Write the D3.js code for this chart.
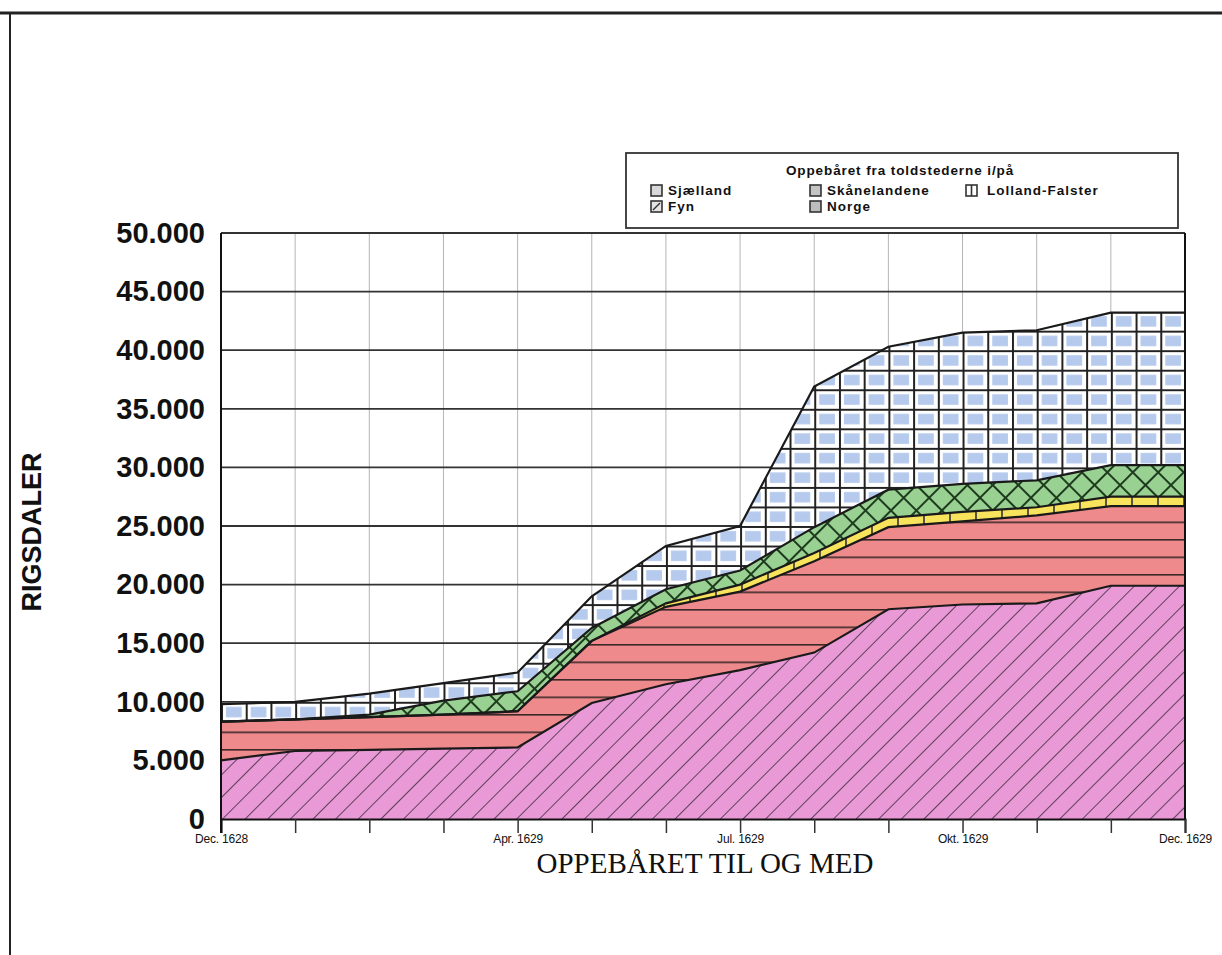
<!DOCTYPE html>
<html><head><meta charset="utf-8">
<script src="https://cdn.jsdelivr.net/npm/d3@7/dist/d3.min.js"></script>
<style>body{margin:0;background:#fff}svg{display:block}</style>
</head><body>
<svg id="chart" width="1222" height="955"></svg>
<script>
// ---- data ----
const tickLabels = ["Dec. 1628","","","","Apr. 1629","","","Jul. 1629","","","Okt. 1629","","","Dec. 1629"];
const fyn            = [5000,5800,5900,6000,6100,9900,11500,12700,14200,17900,18300,18400,19900,19900];
const skaanelandene  = [3300,2700,2800,2900,3100,5300,6600,6700,7800,7000,7100,7500,6800,6800];
const lollandFalster = [0,0,0,0,0,0,300,600,700,800,800,700,800,800];
const norge          = [0,0,200,1200,1700,1100,1200,1200,2200,2400,2400,2300,2700,2700];
const sjaelland      = [1500,1500,1800,1500,1600,2700,3700,3800,12000,12200,12900,12800,13000,13000];
const yTicks = [0,5000,10000,15000,20000,25000,30000,35000,40000,45000,50000];
const yTickLabels = ["0","5.000","10.000","15.000","20.000","25.000","30.000","35.000","40.000","45.000","50.000"];
const legendTitle = "Oppebåret fra toldstederne i/på";
const seriesNames = ["Fyn","Skånelandene","Lolland-Falster","Norge","Sjælland"];
const xTitle = "OPPEBÅRET TIL OG MED";
const yTitle = "RIGSDALER";

// ---- build table ----
const seriesArrays = [fyn, skaanelandene, lollandFalster, norge, sjaelland];
const rows = tickLabels.map((t,i)=>{
  const r = {i:i};
  seriesNames.forEach((n,k)=>{ r[n] = seriesArrays[k][i]; });
  return r;
});
const stacked = d3.stack().keys(seriesNames)(rows);

const svg = d3.select("#chart");
const L = 221, R = 1185, T = 233, B = 819;
const x = d3.scalePoint().domain(d3.range(tickLabels.length)).range([L,R]);
const y = d3.scaleLinear().domain([0,50000]).range([B,T]);

// ---- patterns ----
const defs = svg.append("defs");
const cellW = (R-L)/(tickLabels.length-1)/3, cellH = (B-T)/30;
let p = defs.append("pattern").attr("id","pFyn").attr("patternUnits","userSpaceOnUse")
  .attr("width",16).attr("height",16).attr("patternTransform","rotate(45)");
p.append("rect").attr("width",16).attr("height",16).attr("fill","#e99ad6");
p.append("line").attr("x1",0).attr("y1",0).attr("x2",0).attr("y2",16).attr("stroke","#3a2a3a").attr("stroke-width",1.6);
p = defs.append("pattern").attr("id","pSkane").attr("patternUnits","userSpaceOnUse")
  .attr("x",0).attr("y",B).attr("width",20).attr("height",17.5);
p.append("rect").attr("width",20).attr("height",17.5).attr("fill","#ee8a8c");
p.append("line").attr("x1",0).attr("y1",0.8).attr("x2",20).attr("y2",0.8).attr("stroke","#3a2828").attr("stroke-width",1.6);
p = defs.append("pattern").attr("id","pLF").attr("patternUnits","userSpaceOnUse")
  .attr("x",L).attr("y",0).attr("width",26).attr("height",40);
p.append("rect").attr("width",26).attr("height",40).attr("fill","#f7e35c");
p.append("line").attr("x1",1).attr("y1",0).attr("x2",1).attr("y2",40).attr("stroke","#333").attr("stroke-width",1.6);
p = defs.append("pattern").attr("id","pNorge").attr("patternUnits","userSpaceOnUse")
  .attr("width",18).attr("height",18).attr("patternTransform","rotate(45)");
p.append("rect").attr("width",18).attr("height",18).attr("fill","#98d192");
p.append("path").attr("d","M0,1H18M1,0V18").attr("stroke","#1e3b1e").attr("stroke-width",2);
p = defs.append("pattern").attr("id","pSjael").attr("patternUnits","userSpaceOnUse")
  .attr("x",L).attr("y",T).attr("width",cellW).attr("height",cellH);
p.append("rect").attr("width",cellW).attr("height",cellH).attr("fill","#fff");
p.append("rect").attr("x",5).attr("y",5).attr("width",cellW-9).attr("height",cellH-9).attr("fill","#a9c1ea").attr("opacity",0.85);
p.append("path").attr("d",`M0,1H${cellW}M1,0V${cellH}`).attr("stroke","#222").attr("stroke-width",2);
const fills = {"Fyn":"url(#pFyn)","Skånelandene":"url(#pSkane)","Lolland-Falster":"url(#pLF)","Norge":"url(#pNorge)","Sjælland":"url(#pSjael)"};

// ---- outer frame ----
svg.append("line").attr("x1",0).attr("x2",1222).attr("y1",13).attr("y2",13).attr("stroke","#222").attr("stroke-width",3);
svg.append("line").attr("x1",10).attr("x2",10).attr("y1",13).attr("y2",955).attr("stroke","#222").attr("stroke-width",2);

// ---- gridlines ----
svg.append("g").selectAll("line").data(d3.range(tickLabels.length)).join("line")
  .attr("x1",d=>x(d)).attr("x2",d=>x(d)).attr("y1",T).attr("y2",B)
  .attr("stroke","#b5b5b5").attr("stroke-width",1);
svg.append("g").selectAll("line").data(yTicks).join("line")
  .attr("x1",L).attr("x2",R).attr("y1",d=>y(d)).attr("y2",d=>y(d))
  .attr("stroke","#333").attr("stroke-width",1.8);

// ---- areas ----
const area = d3.area().x(d=>x(d.data.i)).y0(d=>y(d[0])).y1(d=>y(d[1]));
const topLine = d3.line().x(d=>x(d.data.i)).y(d=>y(d[1]));
svg.append("g").selectAll("path").data(stacked).join("path")
  .attr("d",area).attr("fill",d=>fills[d.key]);
svg.append("g").selectAll("path").data(stacked).join("path")
  .attr("d",topLine).attr("fill","none").attr("stroke","#1a1a1a").attr("stroke-width",2.2);

// ---- axes ----
const xAxis = d3.axisBottom(x).tickSize(14).tickFormat(i=>tickLabels[i]);
const gx = svg.append("g").attr("transform",`translate(0,${B})`).call(xAxis);
gx.select(".domain").attr("stroke","#111").attr("stroke-width",2);
gx.selectAll(".tick line").attr("stroke","#333").attr("stroke-width",1.5);
gx.selectAll(".tick text").attr("y",15).attr("font-family","Liberation Sans, Arial, sans-serif")
  .attr("font-size",12).attr("letter-spacing","-0.2").attr("fill","#111");

const yAxis = d3.axisLeft(y).tickValues(yTicks).tickSize(0).tickPadding(16)
  .tickFormat((d,i)=>yTickLabels[i]);
const gy = svg.append("g").attr("transform",`translate(${L},0)`).call(yAxis);
gy.select(".domain").remove();
gy.selectAll(".tick text").attr("font-family","Liberation Sans, Arial, sans-serif")
  .attr("font-weight","bold").attr("font-size",29).attr("fill","#111");
svg.append("line").attr("x1",L).attr("x2",L).attr("y1",T).attr("y2",B+14).attr("stroke","#111").attr("stroke-width",2);
svg.append("line").attr("x1",R).attr("x2",R).attr("y1",T).attr("y2",B).attr("stroke","#111").attr("stroke-width",2);

// ---- titles ----
svg.append("text").attr("x",705).attr("y",873).attr("text-anchor","middle")
  .attr("font-family","Liberation Serif, Times New Roman, serif").attr("font-size",29)
  .attr("fill","#111").text(xTitle);
svg.append("text").attr("transform","translate(41,532) rotate(-90)").attr("text-anchor","middle")
  .attr("font-family","Liberation Sans, Arial, sans-serif").attr("font-weight","bold")
  .attr("font-size",27).attr("fill","#111").text(yTitle);

// ---- legend ----
const lg = svg.append("g");
lg.append("rect").attr("x",626).attr("y",153).attr("width",552).attr("height",75)
  .attr("fill","#fff").attr("stroke","#333").attr("stroke-width",1.8);
lg.append("text").attr("x",900).attr("y",175).attr("text-anchor","middle")
  .attr("font-family","Liberation Sans, Arial, sans-serif").attr("font-weight","bold")
  .attr("font-size",13.5).attr("letter-spacing","0.9").attr("fill","#111").text(legendTitle);
const legendItems = [
  {name:"Sjælland", x:651, y:185, fill:"#d8d8d8"},
  {name:"Skånelandene", x:810, y:185, fill:"#c4c4c4"},
  {name:"Lolland-Falster", x:966, y:185, fill:"#fff"},
  {name:"Fyn", x:651, y:201, fill:"#e4e4e4"},
  {name:"Norge", x:810, y:201, fill:"#bdbdbd"}
];
const li = lg.selectAll("g.item").data(legendItems).join("g").attr("class","item")
  .attr("transform",d=>`translate(${d.x},${d.y})`);
li.append("rect").attr("width",11).attr("height",11).attr("fill",d=>d.fill)
  .attr("stroke","#333").attr("stroke-width",1.6);
li.filter(d=>d.name==="Fyn").append("path").attr("d","M2,9L9,2").attr("stroke","#333").attr("stroke-width",1.4);
li.filter(d=>d.name==="Lolland-Falster").append("path").attr("d","M5.5,0V11").attr("stroke","#333").attr("stroke-width",1.6);
li.append("text").attr("x",d=>d.name==="Lolland-Falster"?21:17).attr("y",10)
  .attr("font-family","Liberation Sans, Arial, sans-serif").attr("font-weight","bold")
  .attr("font-size",13.5).attr("letter-spacing","1").attr("fill","#111").text(d=>d.name);
</script>
</body></html>
